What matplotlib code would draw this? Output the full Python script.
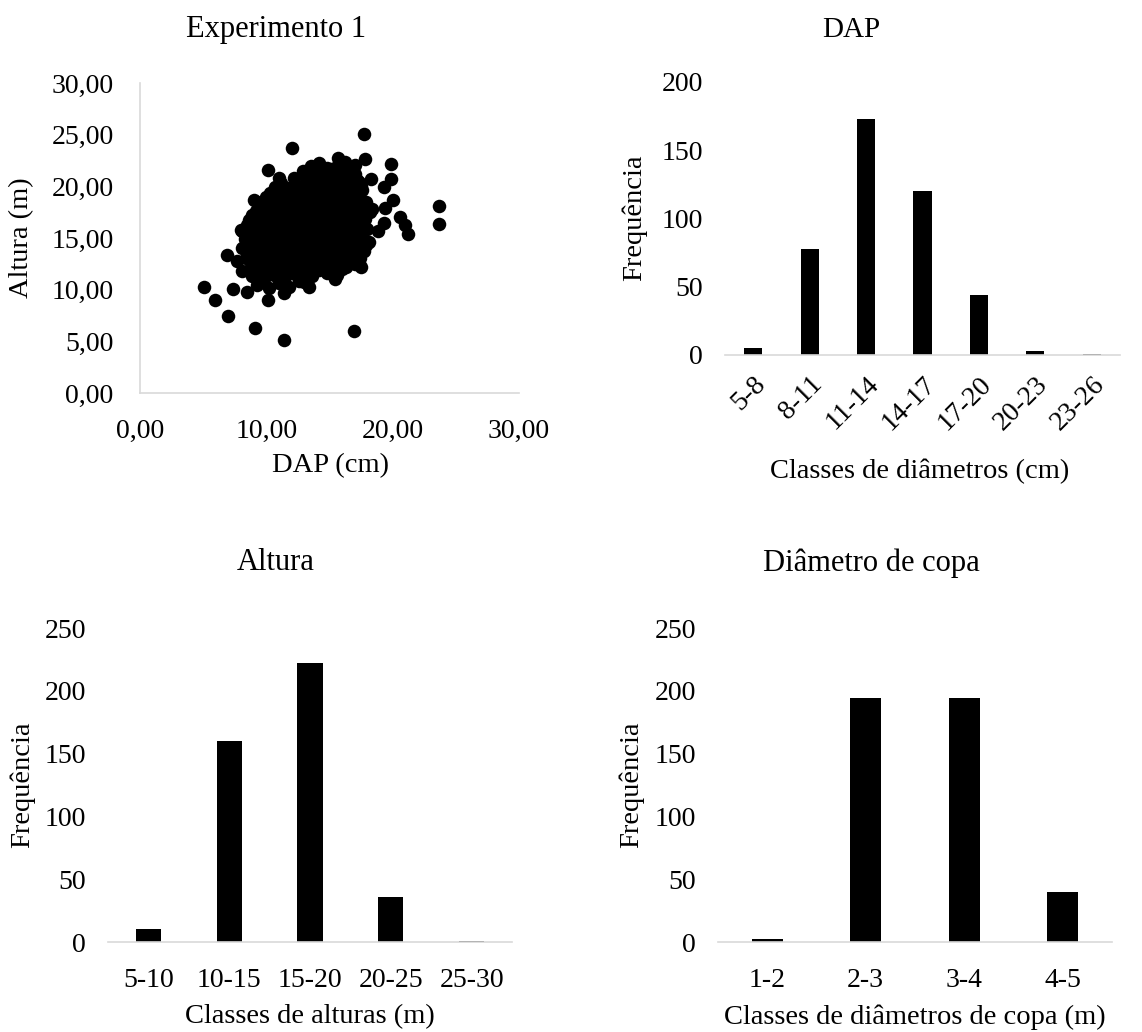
import matplotlib.pyplot as plt

plt.rcParams['font.family'] = ['Liberation Serif', 'DejaVu Serif']
plt.rcParams['font.size'] = 20

# --- dados ---
# dispersao DAP (cm) x Altura (m) - pontos externos
dap_out = [17.7, 12.0, 10.1, 17.8, 19.9, 19.9, 18.3, 17.2, 19.3, 20.0, 19.4, 23.7, 23.7,
           20.6, 21.0, 21.2, 19.3, 18.4, 18.8, 18.1, 17.5, 16.9, 11.4, 9.1, 7.0, 5.9, 5.1,
           7.4, 6.9, 8.5, 10.1, 11.4, 13.4, 13.0, 15.4, 9.0, 8.1, 7.7, 8.1, 9.0, 11.0,
           15.7, 14.2, 13.5, 12.9, 16.2, 17.0]
alt_out = [25.1, 23.7, 21.6, 22.6, 22.2, 20.7, 20.7, 20.6, 19.9, 18.7, 17.9, 18.1, 16.4,
           17.0, 16.3, 15.4, 16.5, 17.8, 15.7, 14.6, 12.2, 6.0, 5.1, 6.3, 7.5, 9.0, 10.3,
           10.1, 13.4, 9.8, 9.0, 9.7, 10.3, 10.7, 11.0, 18.7, 15.7, 12.8, 11.8, 12.2, 20.8,
           22.7, 22.3, 22.0, 21.5, 22.4, 22.1]
# nucleo da nuvem de pontos
dap_core = [9.3, 10.2, 11.0, 11.8, 12.6,
            8.9, 9.8, 10.6, 11.5, 12.3, 13.6, 14.8, 15.6,
            8.8, 9.6, 10.5, 11.3, 12.1, 12.9, 13.8, 14.6, 15.5, 16.3, 17.0,
            8.4, 9.2, 10.1, 10.9, 11.7, 12.6, 13.4, 14.2, 15.0, 15.9, 16.7, 17.4,
            8.1, 9.0, 9.8, 10.7, 11.5, 12.3, 13.1, 14.0, 14.8, 15.6, 16.5, 17.3, 17.9,
            8.3, 9.3, 10.1, 10.9, 11.8, 12.7, 13.5, 14.3, 15.2, 16.0, 16.9, 17.6,
            8.0, 8.9, 9.7, 10.6, 11.4, 12.2, 13.1, 13.9, 14.7, 15.6, 16.4, 17.2, 18.0,
            8.6, 9.5, 10.3, 11.2, 12.0, 12.8, 13.7, 14.5, 15.3, 16.2, 17.0, 17.8,
            9.2, 10.0, 10.9, 11.7, 12.5, 13.4, 14.2, 15.0, 15.9, 16.7, 17.5, 18.2,
            9.6, 10.5, 11.3, 12.1, 13.0, 13.8, 14.6, 15.5, 16.3, 17.1, 17.9,
            10.3, 11.1, 12.0, 12.8, 13.6, 14.4, 15.3, 16.1, 16.9, 17.6,
            11.2, 12.3, 13.2, 14.0, 14.9, 15.7, 16.5, 17.3,
            12.9, 13.8, 14.6, 15.4, 16.2, 17.0,
            13.9, 14.8, 15.7, 16.5]
alt_core = [10.5, 10.2, 10.6, 10.3, 10.8,
            11.3, 11.0, 11.4, 11.2, 11.5, 11.3, 11.6, 11.4,
            12.2, 12.0, 12.4, 12.1, 12.3, 12.0, 12.3, 12.1, 12.4, 12.2, 12.5,
            13.1, 13.3, 12.9, 13.2, 13.0, 13.3, 13.1, 12.9, 13.2, 13.0, 13.3, 13.1,
            14.0, 14.2, 13.9, 14.1, 14.0, 14.2, 13.8, 14.1, 14.0, 14.2, 13.9, 14.1, 14.3,
            14.9, 14.7, 15.0, 14.8, 15.1, 14.9, 14.7, 15.0, 14.8, 15.1, 14.9, 15.0,
            15.8, 15.6, 15.9, 15.7, 16.0, 15.8, 15.6, 15.9, 15.7, 16.0, 15.8, 15.6, 15.9,
            16.7, 16.5, 16.8, 16.6, 16.9, 16.7, 16.5, 16.8, 16.6, 16.9, 16.7, 16.8,
            17.6, 17.4, 17.7, 17.5, 17.8, 17.6, 17.4, 17.7, 17.5, 17.8, 17.6, 17.5,
            18.5, 18.3, 18.6, 18.4, 18.7, 18.5, 18.3, 18.6, 18.4, 18.7, 18.5,
            19.4, 19.2, 19.5, 19.3, 19.6, 19.4, 19.2, 19.5, 19.3, 19.6,
            20.3, 20.1, 20.4, 20.2, 20.5, 20.3, 20.1, 20.4,
            21.2, 21.0, 21.3, 21.1, 21.4, 21.2,
            22.0, 21.8, 22.1, 21.9]
# pontos intercalados do nucleo (regiao mais densa)
dap_mid = [9.4, 10.2, 11.1, 11.9, 12.7, 14.2, 15.2, 16.0,
           9.0, 9.9, 10.7, 11.5, 12.4, 13.2, 14.0, 14.9, 15.8, 16.6, 17.3,
           8.7, 9.5, 10.4, 11.2, 12.0, 12.9, 13.7, 14.6, 15.4, 16.2, 17.0, 17.7,
           8.5, 9.4, 10.3, 11.1, 11.9, 12.8, 13.6, 14.4, 15.3, 16.1, 16.9, 17.6,
           8.4, 9.2, 10.0, 10.8, 11.6, 12.5, 13.3, 14.2, 15.0, 15.9, 16.8, 17.6,
           8.5, 9.3, 10.1, 10.9, 11.8, 12.6, 13.5, 14.3, 15.1, 16.0, 16.8, 17.6,
           8.9, 9.8, 10.6, 11.4, 12.3, 13.1, 13.9, 14.8, 15.6, 16.4, 17.2, 17.9,
           9.4, 10.2, 11.0, 11.9, 12.7, 13.5, 14.3, 15.2, 16.0, 16.8, 17.6,
           10.0, 10.8, 11.6, 12.5, 13.3, 14.1, 15.0, 15.8, 16.6, 17.3,
           10.7, 11.6, 12.5, 13.4, 14.3, 15.1, 16.0, 16.8, 17.5,
           12.2, 13.4, 14.2, 15.0, 15.8, 16.6,
           13.5, 14.3, 15.1, 16.0]
alt_mid = [11.8, 11.7, 11.9, 11.8, 11.6, 11.9, 11.8, 12.0,
           12.7, 12.6, 12.8, 12.7, 12.5, 12.8, 12.7, 12.6, 12.8, 12.7, 12.6,
           13.6, 13.5, 13.7, 13.6, 13.4, 13.7, 13.6, 13.5, 13.7, 13.6, 13.5, 13.7,
           14.5, 14.4, 14.6, 14.5, 14.3, 14.6, 14.5, 14.4, 14.6, 14.5, 14.4, 14.6,
           15.4, 15.3, 15.5, 15.4, 15.2, 15.5, 15.4, 15.3, 15.5, 15.4, 15.3, 15.5,
           16.3, 16.2, 16.4, 16.3, 16.1, 16.4, 16.3, 16.2, 16.4, 16.3, 16.2, 16.4,
           17.2, 17.1, 17.3, 17.2, 17.0, 17.3, 17.2, 17.1, 17.3, 17.2, 17.1, 17.3,
           18.1, 18.0, 18.2, 18.1, 17.9, 18.2, 18.1, 18.0, 18.2, 18.1, 18.0,
           19.0, 18.9, 19.1, 19.0, 18.8, 19.1, 19.0, 18.9, 19.1, 19.0,
           19.9, 19.8, 20.0, 19.9, 19.7, 20.0, 19.9, 19.8, 20.0,
           20.8, 20.7, 20.9, 20.8, 20.6, 20.9,
           21.6, 21.5, 21.7, 21.6]

dap_classes = ['5-8', '8-11', '11-14', '14-17', '17-20', '20-23', '23-26']
dap_freq = [5, 78, 173, 120, 44, 3, 1]

alt_classes = ['5-10', '10-15', '15-20', '20-25', '25-30']
alt_freq = [10, 160, 222, 36, 1]

copa_classes = ['1-2', '2-3', '3-4', '4-5']
copa_freq = [2, 194, 194, 40]

W, H = 1142, 1032
fig = plt.figure(figsize=(W / 100, H / 100), dpi=100)
grey = '#d9d9d9'


def px_axes(left, top, right, bottom):
    return fig.add_axes([left / W, 1 - bottom / H, (right - left) / W, (bottom - top) / H])


def clean(ax, left_spine=False):
    for s in ['top', 'right']:
        ax.spines[s].set_visible(False)
    ax.spines['left'].set_visible(left_spine)
    ax.spines['left'].set_color(grey)
    ax.spines['bottom'].set_color(grey)
    ax.spines['bottom'].set_linewidth(1.2)
    ax.spines['left'].set_linewidth(1.2)
    ax.tick_params(length=0, labelsize=20)
    ax.tick_params(axis='y', pad=16)
    ax.tick_params(axis='x', pad=19)


# ---- Experimento 1 (dispersao) ----
ax1 = px_axes(140, 83, 519, 393)
ax1.scatter(dap_core + dap_mid + dap_out, alt_core + alt_mid + alt_out,
            s=95, color='black', zorder=3, linewidths=0)
ax1.set_xlim(0, 30)
ax1.set_ylim(0, 30)
ax1.set_xticks([0, 10, 20, 30])
ax1.set_yticks([0, 5, 10, 15, 20, 25, 30])
ax1.set_xticklabels(['0,00', '10,00', '20,00', '30,00'])
ax1.set_yticklabels(['0,00', '5,00', '10,00', '15,00', '20,00', '25,00', '30,00'])
clean(ax1, left_spine=True)
ax1.tick_params(axis='y', pad=19)
ax1.spines['left'].set_zorder(1)

# ---- DAP ----
ax2 = px_axes(725, 82, 1120, 355)
ax2.bar(range(len(dap_classes)), dap_freq, width=0.32, color='black')
ax2.set_xlim(-0.5, len(dap_classes) - 0.5)
ax2.set_ylim(0, 200)
ax2.set_yticks([0, 50, 100, 150, 200])
ax2.set_xticks(range(len(dap_classes)))
ax2.set_xticklabels(dap_classes, rotation=45, ha='right', rotation_mode='anchor')
clean(ax2)
ax2.tick_params(axis='x', pad=12)

# ---- Altura ----
ax3 = px_axes(108, 628, 512, 942)
ax3.bar(range(len(alt_classes)), alt_freq, width=0.31, color='black')
ax3.set_xlim(-0.5, len(alt_classes) - 0.5)
ax3.set_ylim(0, 250)
ax3.set_yticks([0, 50, 100, 150, 200, 250])
ax3.set_xticks(range(len(alt_classes)))
ax3.set_xticklabels(alt_classes)
clean(ax3)

# ---- Diametro de copa ----
ax4 = px_axes(718, 628, 1112, 942)
ax4.bar(range(len(copa_classes)), copa_freq, width=0.31, color='black')
ax4.set_xlim(-0.5, len(copa_classes) - 0.5)
ax4.set_ylim(0, 250)
ax4.set_yticks([0, 50, 100, 150, 200, 250])
ax4.set_xticks(range(len(copa_classes)))
ax4.set_xticklabels(copa_classes)
clean(ax4)


# titulos e rotulos
def ftext(x, y, s, size=20, **kw):
    fig.text(x / W, 1 - y / H, s, ha='center', va='center', fontsize=size, **kw)


ftext(276, 30, 'Experimento 1', size=22)
ftext(851, 30, 'DAP', size=21)
ftext(276, 563, 'Altura', size=22)
ftext(871, 563, 'Diâmetro de copa', size=22)

ftext(330, 466, 'DAP (cm)', size=20.5)
ftext(22, 238, 'Altura (m)', size=20.5, rotation=90)
ftext(920, 471, 'Classes de diâmetros (cm)', size=20.5)
ftext(634, 218, 'Frequência', size=20.5, rotation=90)
ftext(310, 1017, 'Classes de alturas (m)', size=20.5)
ftext(22, 785, 'Frequência', size=20.5, rotation=90)
ftext(915, 1017, 'Classes de diâmetros de copa (m)', size=20.5)
ftext(631, 785, 'Frequência', size=20.5, rotation=90)

fig.savefig('out.png', dpi=100)
